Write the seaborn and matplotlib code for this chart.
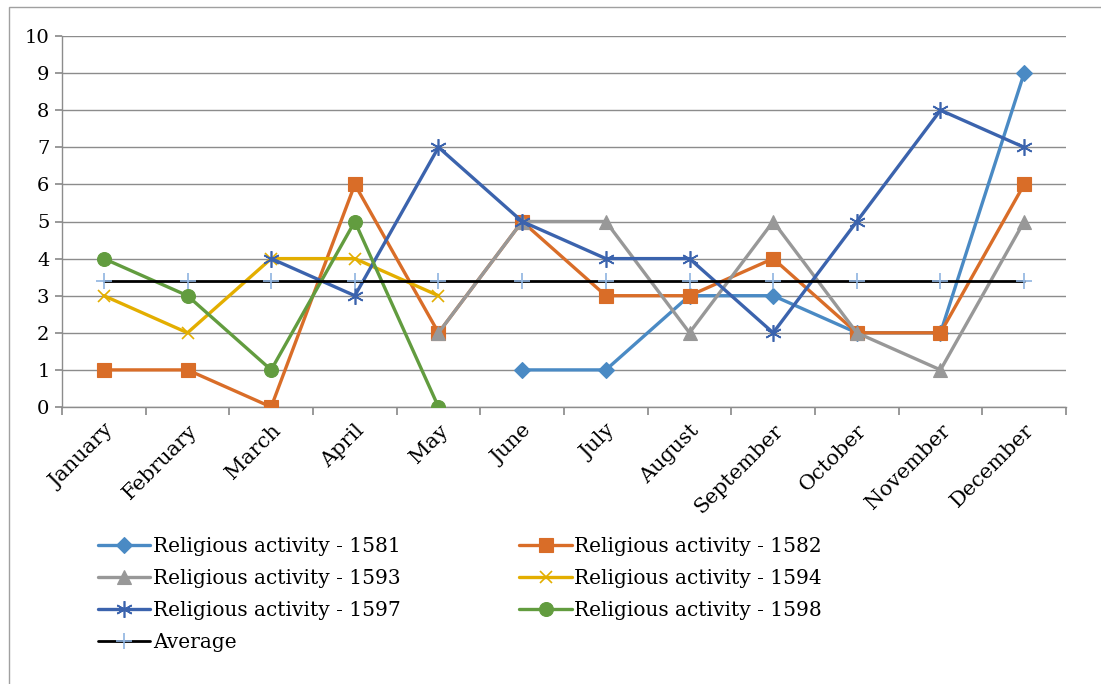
import numpy as np
import pandas as pd
import matplotlib
matplotlib.use("Agg")
import matplotlib.pyplot as plt
from matplotlib.patches import Rectangle
import seaborn as sns

months = ["January", "February", "March", "April", "May", "June", "July",
          "August", "September", "October", "November", "December"]
nan = np.nan
ra_1581 = [nan, nan, nan, nan, nan, 1, 1, 3, 3, 2, 2, 9]
ra_1582 = [1, 1, 0, 6, 2, 5, 3, 3, 4, 2, 2, 6]
ra_1593 = [nan, nan, nan, nan, 2, 5, 5, 2, 5, 2, 1, 5]
ra_1594 = [3, 2, 4, 4, 3, nan, nan, nan, nan, nan, nan, nan]
ra_1597 = [nan, nan, 4, 3, 7, 5, 4, 4, 2, 5, 8, 7]
ra_1598 = [4, 3, 1, 5, 0, nan, nan, nan, nan, nan, nan, nan]
average = [3.4] * 12

series = [
    ("Religious activity - 1581", ra_1581, "#4A8AC4", "D", 8, "#4A8AC4"),
    ("Religious activity - 1582", ra_1582, "#D96D28", "s", 10, "#D96D28"),
    ("Religious activity - 1593", ra_1593, "#989898", "^", 10, "#989898"),
    ("Religious activity - 1594", ra_1594, "#E3AE00", "x", 9, "#E3AE00"),
    ("Religious activity - 1597", ra_1597, "#3B63AD", (6, 2, 0), 12, "#3B63AD"),
    ("Religious activity - 1598", ra_1598, "#629C3F", "o", 10, "#629C3F"),
    ("Average", average, "#000000", "+", 12, "#8FB4E0"),
]

sns.set_theme(style="white")
plt.rcParams["font.family"] = ["DejaVu Serif", "Liberation Serif"]
plt.rcParams["text.color"] = "black"
plt.rcParams["xtick.color"] = "black"
plt.rcParams["ytick.color"] = "black"

fig = plt.figure(figsize=(11.01, 6.84), dpi=100)
ax = fig.add_axes([62 / 1101, 1 - 407 / 684, (1066 - 62) / 1101, (407 - 36) / 684])

x_idx = np.arange(len(months))
for name, vals, col, mk, ms, mcol in series:
    df = pd.DataFrame({"m": x_idx, "v": vals}).dropna()
    lw = 2.0 if name == "Average" else 2.4
    sns.lineplot(data=df, x="m", y="v", ax=ax, color=col, linewidth=lw,
                 marker=mk, markersize=ms, markerfacecolor=mcol,
                 markeredgecolor=mcol, markeredgewidth=1.2 if mk in ("x", "+", (6, 2, 0)) else 0.8,
                 label=name, legend=False, zorder=3)

ax.set_xlim(-0.5, 11.5)
ax.set_ylim(0, 10)
ax.set_yticks(range(0, 11))
ax.set_yticklabels([str(i) for i in range(0, 11)], fontsize=14)
ax.yaxis.grid(True, color="#8C8C8C", linewidth=1.0)
ax.xaxis.grid(False)
ax.set_xticks(np.arange(-0.5, 12, 1))
ax.set_xticklabels([])
ax.set_xticks(x_idx, minor=True)
ax.set_xticklabels(months, minor=True, rotation=45, ha="right",
                   rotation_mode="anchor", fontsize=15)
ax.tick_params(axis="x", which="major", length=6, color="#8C8C8C", direction="out", bottom=True)
ax.tick_params(axis="x", which="minor", length=0, pad=10, labelcolor="black")
ax.tick_params(axis="y", length=5, color="#8C8C8C", direction="out", left=True, pad=4,
               labelcolor="black")
ax.set_xlabel("")
ax.set_ylabel("")
for s in ["top", "right"]:
    ax.spines[s].set_visible(False)
for s in ["left", "bottom"]:
    ax.spines[s].set_color("#8C8C8C")
    ax.spines[s].set_linewidth(1.0)

handles, labels = ax.get_legend_handles_labels()
order = [0, 2, 4, 6, 1, 3, 5]
leg = fig.legend([handles[i] for i in order], [labels[i] for i in order],
                 loc="upper left", bbox_to_anchor=(98 / 1101, 1 - 537 / 684),
                 ncol=2, frameon=False, fontsize=14.5, handlelength=2.6,
                 handletextpad=0.12, labelspacing=0.65, columnspacing=5.9,
                 borderaxespad=0, borderpad=0, labelcolor="black")

fig.patches.append(Rectangle((9 / 1101, -0.1), 1.2, 1 - 7 / 684 + 0.1,
                             transform=fig.transFigure, fill=False,
                             edgecolor="#A0A0A0", linewidth=1.0))

fig.savefig("out.png", dpi=100)
